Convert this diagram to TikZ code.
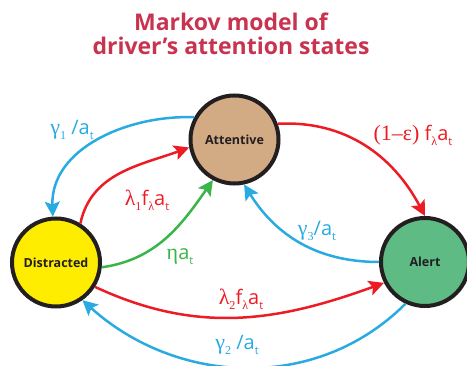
\documentclass[tikz,border=0pt]{standalone}
\usepackage{fontspec}
\setmainfont{Open Sans}
\newfontfamily\grk[Scale=1.1]{Liberation Serif}
\usetikzlibrary{arrows.meta}
\definecolor{titlecol}{RGB}{200,52,80}
\definecolor{cblue}{RGB}{41,171,226}
\definecolor{cred}{RGB}{237,28,36}
\definecolor{cgreen}{RGB}{57,181,74}
\definecolor{ctan}{RGB}{210,171,132}
\definecolor{cyel}{RGB}{255,237,0}
\definecolor{cgrn}{RGB}{93,187,131}
\definecolor{cdark}{RGB}{35,31,32}
\newcommand{\sbs}[1]{\raisebox{-0.45ex}{\fontsize{11}{11}\selectfont #1}}
\newcommand{\gk}[1]{{\grk #1}}
\begin{document}
\begin{tikzpicture}[x=1pt,y=-1pt,
  state/.style={circle, draw=cdark, line width=4pt, minimum size=88pt, inner sep=0pt,
    font=\fontsize{12.5}{12.5}\selectfont\bfseries, text=cdark},
  conn/.style={line width=2.5pt, -{Stealth[length=15pt,width=15pt,inset=3pt]}},
  lbl/.style={font=\fontsize{20}{20}\selectfont, inner sep=0pt}]
\useasboundingbox (0,0) rectangle (467,366);
\node[font=\fontsize{23}{23}\selectfont\bfseries, text=titlecol, align=center] (title) at (231,34)
  {Markov model of\\[1pt]driver’s attention states};
\node[state, fill=ctan] (att) at (234.5,139.5) {Attentive};
\node[state, fill=cyel] (dis) at (56,262.5) {Distracted};
\node[state, fill=cgrn] (alt) at (425,262) {Alert};

\draw[conn, cblue] (att.151) to[out=178,in=92] (dis.94);
\draw[conn, cred] (dis.58) to[out=78,in=200] (att.190);
\draw[conn, cgreen] (dis.-6) to[out=8,in=235] (att.242);
\draw[conn, cred] (att.20) to[out=3,in=118] (alt.90);
\draw[conn, cblue] (alt.180) to[out=180,in=-58] (att.282);
\draw[conn, cred] (dis.-32) to[out=-25,in=200] (alt.207);
\draw[conn, cblue] (alt.245) to[out=-135,in=-42] (dis.-55);

\node[lbl, text=cblue] (l1) at (72,130) {\gk{γ}\sbs{\gk{1}} /a\sbs{t}};
\node[lbl, text=cred] (l2) at (147,200) {\gk{λ}\sbs{\gk{1}}f\sbs{\gk{λ}}a\sbs{t}};
\node[lbl, text=cgreen] (l3) at (180,257) {\gk{η}a\sbs{t}};
\node[lbl, text=cred] (l4) at (413,135) {\gk{(1–ε)} f\sbs{\gk{λ}}a\sbs{t}};
\node[lbl, text=cblue] (l5) at (317,231) {\gk{γ}\sbs{\gk{3}}/a\sbs{t}};
\node[lbl, text=cred] (l6) at (241,299) {\gk{λ}\sbs{\gk{2}}f\sbs{\gk{λ}}a\sbs{t}};
\node[lbl, text=cblue] (l7) at (237,345) {\gk{γ}\sbs{\gk{2}} /a\sbs{t}};
\end{tikzpicture}
\end{document}
